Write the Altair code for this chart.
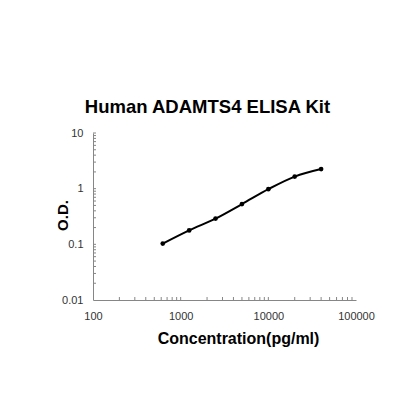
import altair as alt
import pandas as pd

conc = [625, 1250, 2500, 5000, 10000, 20000, 40000]
od = [0.103, 0.178, 0.29, 0.528, 0.98, 1.65, 2.25]

x_ticks = [200, 300, 400, 500, 600, 700, 800, 900, 1000,
           2000, 3000, 4000, 5000, 6000, 7000, 8000, 9000, 10000,
           20000, 30000, 40000, 50000, 60000, 70000, 80000, 90000]
y_ticks = [0.02, 0.03, 0.04, 0.05, 0.06, 0.07, 0.08, 0.09, 0.1,
           0.2, 0.3, 0.4, 0.5, 0.6, 0.7, 0.8, 0.9, 1,
           2, 3, 4, 5, 6, 7, 8, 9, 10]

FONT = "Liberation Sans"
W, H = 263, 167

df = pd.DataFrame({"conc": conc, "od": od})
dfx = pd.DataFrame({"conc": x_ticks})
dfy = pd.DataFrame({"od": y_ticks})

xs = alt.Scale(type="log", domain=[100, 100000], nice=False)
ys = alt.Scale(type="log", domain=[0.01, 10], nice=False)

xaxis = alt.Axis(values=[100, 1000, 10000, 100000], format="d", grid=False, ticks=False,
                 domainColor="#868686", labelFont=FONT, labelFontSize=11, labelColor="#333333",
                 labelPadding=10, title="Concentration(pg/ml)", titleFont=FONT, titleFontSize=16,
                 titleFontWeight="bold", titleX=145, titleY=43, titleBaseline="alphabetic",
                 titleColor="black", labelFlush=False)
yaxis = alt.Axis(values=[0.01, 0.1, 1, 10], grid=False, ticks=False,
                 domainColor="#868686", labelFont=FONT, labelFontSize=11, labelColor="#333333",
                 labelPadding=10, title="O.D.", titleFont=FONT, titleFontSize=15,
                 titleFontWeight="bold", titleX=-31, titleY=82, titleBaseline="middle",
                 titleAlign="center", titleColor="black", labelFlush=False,
                 labelExpr="datum.value >= 1 ? format(datum.value, 'd') : format(datum.value, '')")

line = alt.Chart(df).mark_line(color="black", strokeWidth=2, interpolate="monotone").encode(
    x=alt.X("conc:Q", scale=xs, axis=xaxis),
    y=alt.Y("od:Q", scale=ys, axis=yaxis),
)
pts = alt.Chart(df).mark_point(filled=True, color="black", size=22, opacity=1).encode(
    x=alt.X("conc:Q", scale=xs, axis=xaxis),
    y=alt.Y("od:Q", scale=ys, axis=yaxis),
)
xt = alt.Chart(dfx).mark_rule(color="#868686", strokeWidth=1).encode(
    x=alt.X("conc:Q", scale=xs, axis=xaxis),
    y=alt.value(H),
    y2=alt.value(H - 3),
)
yt = alt.Chart(dfy).mark_rule(color="#868686", strokeWidth=1).encode(
    y=alt.Y("od:Q", scale=ys, axis=yaxis),
    x=alt.value(0),
    x2=alt.value(3),
)

chart = alt.layer(line, pts, xt, yt).properties(
    width=W, height=H,
    title=alt.TitleParams("Human ADAMTS4 ELISA Kit", font=FONT, fontSize=18.5, fontWeight="bold",
                          color="black", anchor="middle", dx=-17, offset=11),
    autosize=alt.AutoSizeParams(type="none"),
    padding={"left": 85, "top": 125, "right": 40, "bottom": 90},
).configure_view(stroke=None)

chart.save("out.html", embed_options={"renderer": "svg", "actions": False})
